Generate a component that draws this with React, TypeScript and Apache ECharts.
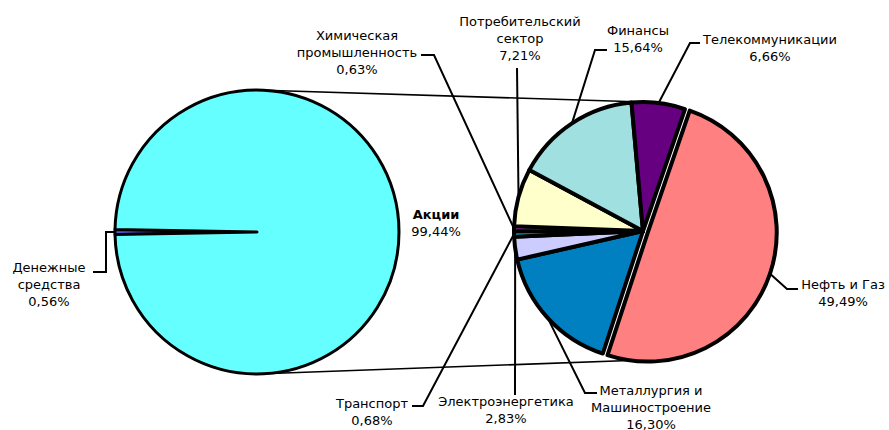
import React, { useEffect, useRef } from "react";
import * as echarts from "echarts";

// ---- data ----
const mainCategories = ["Денежные\nсредства", "Акции"];
const mainValues = [0.56, 99.44];
const mainColors = ["#6666FF", "#66FFFF"];

const sectorCategories = [
  "Нефть и Газ",
  "Металлургия и\nМашиностроение",
  "Электроэнергетика",
  "Транспорт",
  "Химическая\nпромышленность",
  "Потребительский\nсектор",
  "Финансы",
  "Телекоммуникации",
];
const sectorValues = [49.49, 16.3, 2.83, 0.68, 0.63, 7.21, 15.64, 6.66];
const sectorColors = ["#FF8080", "#0080C0", "#CCCCFF", "#00C8D8", "#993399", "#FFFFCC", "#A0E0E0", "#660080"];
const explodedIndex = 0;

// ---- layout ----
const W = 889;
const H = 430;
const P1 = { cx: 257, cy: 232, r: 142 };
const P2 = { cx: 643, cy: 231, r: 129, start: 71 };
const EXPLODE = 5;
const FONT = "DejaVu Sans";

const mainLabelLayout = [
  { x: 49, y: 284, guide: [[106, 232], [106, 272], [93, 272]] },
  { x: 436, y: 223, guide: null },
];
const sectorLabelLayout = [
  { x: 843, y: 293, guide: [[787, 289], [798, 289]] },
  { x: 651, y: 407, guide: [[585, 393], [597, 393]] },
  { x: 506, y: 410, guide: [[515, 395]] },
  { x: 372, y: 412, guide: [[423, 406], [412, 406]] },
  { x: 357, y: 52, guide: [[434, 55], [421, 55]] },
  { x: 520, y: 38, guide: [[517, 68]] },
  { x: 638, y: 39, guide: [[595, 50], [607, 50]] },
  { x: 770, y: 48, guide: [[690, 43], [700, 43]] },
];

const fmt = (v: number) => v.toFixed(2).replace(".", ",") + "%";

function midAngle(values: number[], idx: number, startDeg: number) {
  const total = values.reduce((a, b) => a + b, 0);
  let cum = 0;
  for (let i = 0; i < idx; i++) cum += values[i];
  const a0 = startDeg - (cum / total) * 360;
  const a1 = a0 - (values[idx] / total) * 360;
  return (((a0 + a1) / 2) * Math.PI) / 180;
}

function edgePoint(values: number[], idx: number, startDeg: number, cx: number, cy: number, r: number) {
  const m = midAngle(values, idx, startDeg);
  return [cx + r * Math.cos(m), cy - r * Math.sin(m)];
}

const NONE = "rgba(0,0,0,0)";

export default function App() {
  const ref = useRef<HTMLDivElement>(null);
  useEffect(() => {
    document.body.style.margin = "0";
    const chart = echarts.init(ref.current!, null, { renderer: "svg" });
    const mainTotal = mainValues.reduce((a, b) => a + b, 0);
    const mainStart = 180 + (mainValues[0] / mainTotal) * 180;

    const em = midAngle(sectorValues, explodedIndex, P2.start);
    const exCx = P2.cx + EXPLODE * Math.cos(em);
    const exCy = P2.cy - EXPLODE * Math.sin(em);

    const textStyle = { fontFamily: FONT, fontSize: 13, color: "#000", lineHeight: 17 };
    const B2 = 4;

    chart.setOption({
      animation: false,
      backgroundColor: "#fff",
      graphic: [
        {
          type: "line",
          z: 0,
          shape: { x1: P1.cx, y1: P1.cy - P1.r, x2: P2.cx, y2: P2.cy - P2.r },
          style: { stroke: "#000", lineWidth: 1.6 },
        },
        {
          type: "line",
          z: 0,
          shape: { x1: P1.cx, y1: P1.cy + P1.r, x2: P2.cx, y2: P2.cy + P2.r },
          style: { stroke: "#000", lineWidth: 1.6 },
        },
      ],
      series: [
        {
          type: "pie",
          center: [P1.cx, P1.cy],
          radius: P1.r,
          startAngle: mainStart,
          clockwise: true,
          avoidLabelOverlap: false,
          emphasis: { disabled: true },
          itemStyle: { borderColor: "#000", borderWidth: 3 },
          label: {
            show: true,
            position: "outside",
            ...textStyle,
            formatter: (p: any) =>
              p.dataIndex === 1 ? `{b|${p.name}}\n${fmt(p.value)}` : `${p.name}\n${fmt(p.value)}`,
            rich: { b: { ...textStyle, fontWeight: "bold" } },
          },
          labelLine: { show: true, lineStyle: { color: "#000", width: 2 } },
          labelLayout: (params: any) => {
            const cfg = mainLabelLayout[params.dataIndex];
            const out: any = { x: cfg.x, y: cfg.y, align: "center", verticalAlign: "middle" };
            if (cfg.guide) {
              const s = edgePoint(mainValues, params.dataIndex, mainStart, P1.cx, P1.cy, P1.r);
              out.labelLinePoints = [s, ...cfg.guide];
            }
            return out;
          },
          data: mainCategories.map((name, i) => ({
            name,
            value: mainValues[i],
            itemStyle: { color: mainColors[i] },
            labelLine: { show: mainLabelLayout[i].guide != null },
          })),
        },
        {
          // second pie: all slices except the exploded one, plus all labels
          type: "pie",
          center: [P2.cx, P2.cy],
          radius: P2.r,
          startAngle: P2.start,
          clockwise: true,
          avoidLabelOverlap: false,
          emphasis: { disabled: true },
          itemStyle: { borderColor: "#000", borderWidth: B2 },
          label: {
            show: true,
            position: "outside",
            ...textStyle,
            formatter: (p: any) => `${p.name}\n${fmt(p.value)}`,
          },
          labelLine: { show: true, lineStyle: { color: "#000", width: 2 } },
          labelLayout: (params: any) => {
            const cfg = sectorLabelLayout[params.dataIndex];
            const ex = params.dataIndex === explodedIndex;
            const s = edgePoint(
              sectorValues,
              params.dataIndex,
              P2.start,
              ex ? exCx : P2.cx,
              ex ? exCy : P2.cy,
              P2.r
            );
            return {
              x: cfg.x,
              y: cfg.y,
              align: "center",
              verticalAlign: "middle",
              labelLinePoints: [s, ...cfg.guide],
            };
          },
          data: sectorCategories.map((name, i) => ({
            name,
            value: sectorValues[i],
            itemStyle:
              i === explodedIndex
                ? { color: NONE, borderColor: NONE, borderWidth: 0 }
                : { color: sectorColors[i] },
          })),
        },
        {
          // exploded slice, same pie shifted outwards
          type: "pie",
          center: [exCx, exCy],
          radius: P2.r,
          startAngle: P2.start,
          clockwise: true,
          silent: true,
          emphasis: { disabled: true },
          itemStyle: { borderColor: "#000", borderWidth: B2 },
          label: { show: false },
          labelLine: { show: false },
          data: sectorCategories.map((name, i) => ({
            name,
            value: sectorValues[i],
            itemStyle:
              i === explodedIndex
                ? { color: sectorColors[i] }
                : { color: NONE, borderColor: NONE, borderWidth: 0 },
          })),
        },
      ],
    });
    return () => chart.dispose();
  }, []);
  return <div ref={ref} style={{ width: W, height: H }} />;
}
